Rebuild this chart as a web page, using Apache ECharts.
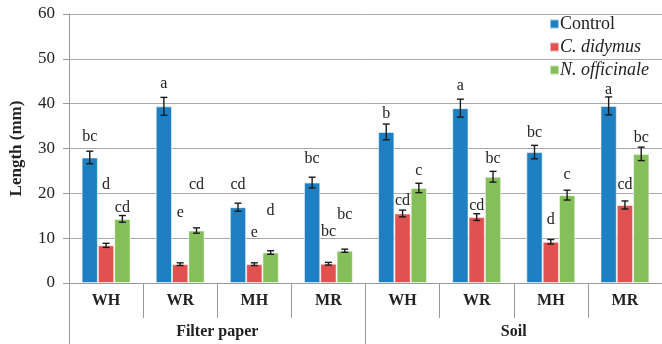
<!DOCTYPE html>
<html><head><meta charset="utf-8">
<script src="https://cdn.jsdelivr.net/npm/echarts@6/dist/echarts.min.js"></script>
<style>html,body{margin:0;padding:0;background:#fff}#c{width:662px;height:344px}</style>
</head><body><div id="c"></div>
<script>
var categories = ['WH','WR','MH','MR','WH','WR','MH','MR'];
var groups = ['Filter paper','Soil'];
var seriesNames = ['Control','C. didymus','N. officinale'];
var yTicks = [0,10,20,30,40,50,60];

var control      = [28.0,39.4,16.9,22.4,33.7,39.0,29.2,39.5];
var controlErr   = [1.4,2.0,0.9,1.2,1.75,2.0,1.5,2.0];
var didymus      = [8.4,4.2,4.2,4.3,15.5,14.7,9.2,17.4];
var didymusErr   = [0.45,0.3,0.3,0.3,0.75,0.75,0.5,0.9];
var officinale   = [14.3,11.7,6.8,7.2,21.2,23.7,19.6,28.8];
var officinaleErr= [0.75,0.6,0.4,0.35,1.05,1.2,1.1,1.5];

var controlLetters    = ['bc','a','cd','bc','b','a','bc','a'];
var didymusLetters    = ['d','e','e','bc','cd','cd','d','cd'];
var officinaleLetters = ['cd','cd','d','bc','c','bc','c','bc'];
var controlLetterAt    = [32.7,44.5,22.0,27.8,37.7,43.9,33.6,43.0];
var didymusLetterAt    = [22.0,15.6,11.1,11.5,18.3,17.2,14.0,22.0];
var officinaleLetterAt = [16.7,22.0,16.0,15.3,25.0,27.6,24.1,32.3];

var colors = ['#1f7fc3','#e0514f','#84bf59'];
var FONT = '"Liberation Serif","DejaVu Serif",serif';
var GAP = 0.34;

var vals = [control, didymus, officinale];
var errs = [controlErr, didymusErr, officinaleErr];
var lets = [controlLetters, didymusLetters, officinaleLetters];
var letAt = [controlLetterAt, didymusLetterAt, officinaleLetterAt];

var series = [];
for (var s = 0; s < 3; s++) {
  series.push({
    name: seriesNames[s], type: 'bar', data: vals[s],
    barGap: '0%', barCategoryGap: (GAP*100)+'%',
    itemStyle: {color: colors[s], borderColor: 'rgba(255,255,255,0.55)', borderWidth: 1},
    z: 2
  });
}
for (var s2 = 0; s2 < 3; s2++) {
  (function(si){
    var rows = vals[si].map(function(v,i){ return [i, v, errs[si][i], letAt[si][i], lets[si][i]]; });
    series.push({
      type: 'custom', data: rows, z: 5, silent: true,
      encode: {x: 0, y: 1},
      renderItem: function(params, api){
        var i = api.value(0), v = api.value(1), e = api.value(2), ly = api.value(3);
        var letter = rows[params.dataIndex][4];
        var band = api.size([1,0])[0];
        var bw = band*(1-GAP)/3;
        var cx = api.coord([i, v])[0] + (si-1)*bw;
        var yTop = api.coord([i, v+e])[1];
        var yBot = api.coord([i, v-e])[1];
        var ly2 = api.coord([i, ly])[1];
        var cap = 3.5;
        var st = {stroke:'#1a1a1a', lineWidth:1.4};
        return {type:'group', children:[
          {type:'line', shape:{x1:cx,y1:yTop,x2:cx,y2:yBot}, style:st},
          {type:'line', shape:{x1:cx-cap,y1:yTop,x2:cx+cap,y2:yTop}, style:st},
          {type:'line', shape:{x1:cx-cap,y1:yBot,x2:cx+cap,y2:yBot}, style:st},
          {type:'text', x:cx, y:ly2, style:{text:letter, fill:'#222', font:'16px '+FONT, align:'center', verticalAlign:'middle'}}
        ]};
      }
    });
  })(s2);
}

var chart = echarts.init(document.getElementById('c'), null, {renderer:'canvas'});
chart.setOption({
  animation: false,
  color: colors,
  textStyle: {fontFamily: FONT},
  grid: {left: 68, top: 14, width: 600, height: 269, containLabel: false},
  legend: {
    orient: 'vertical', left: 544, top: 10, itemGap: 5,
    itemWidth: 9, itemHeight: 9, icon: 'rect',
    textStyle: {fontFamily: FONT, fontSize: 18, color: '#222', padding:[0,0,0,-4]},
    data: [
      {name: 'Control'},
      {name: 'C. didymus', textStyle: {fontStyle: 'italic'}},
      {name: 'N. officinale', textStyle: {fontStyle: 'italic'}}
    ]
  },
  xAxis: [
    {type: 'category', data: categories, position: 'bottom',
     axisLine: {lineStyle: {color: '#9a9a9a', width: 1}},
     axisTick: {show: true, length: 35, interval: 0, lineStyle: {color: '#9a9a9a'}},
     axisLabel: {interval: 0, margin: 10, fontFamily: FONT, fontSize: 16, fontWeight: 'bold', color: '#222'}},
    {type: 'category', data: groups, position: 'bottom',
     axisLine: {show: false},
     axisTick: {show: true, length: 61, interval: 0, lineStyle: {color: '#9a9a9a'}},
     axisLabel: {interval: 0, margin: 41, fontFamily: FONT, fontSize: 16, fontWeight: 'bold', color: '#222'}}
  ],
  yAxis: {
    type: 'value', min: yTicks[0], max: yTicks[yTicks.length-1], interval: 10,
    name: 'Length (mm)', nameLocation: 'middle', nameRotate: 90, nameGap: 44,
    nameTextStyle: {fontFamily: FONT, fontSize: 17, fontWeight: 'bold', color: '#222'},
    axisLine: {show: true, lineStyle: {color: '#9a9a9a'}},
    axisTick: {show: true, length: 6, lineStyle: {color: '#9a9a9a'}},
    axisLabel: {margin: 14, fontFamily: FONT, fontSize: 17, color: '#222'},
    splitLine: {lineStyle: {color: '#a8a8a8', width: 1}}
  },
  series: series
});
</script></body></html>
